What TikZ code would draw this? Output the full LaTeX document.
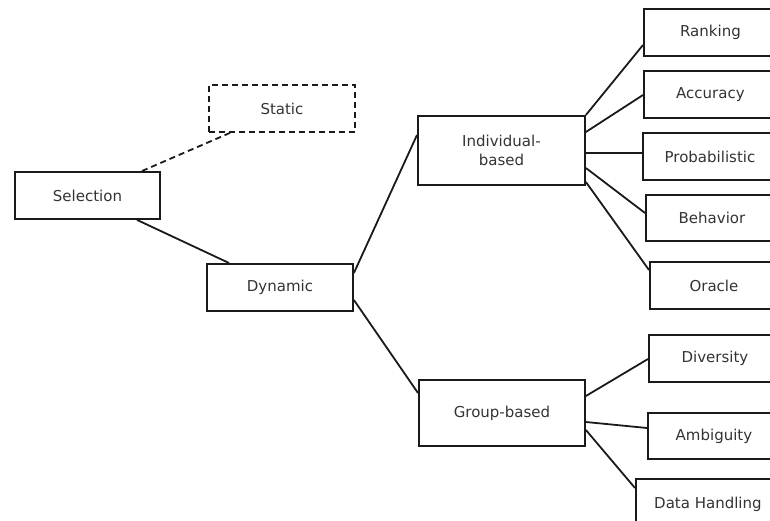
\documentclass[tikz,border=0pt]{standalone}
\usepackage{fontspec}
\setmainfont{DejaVu Sans}
\definecolor{inkline}{HTML}{1A1A1A}
\definecolor{inktext}{HTML}{333333}
\begin{document}
\begin{tikzpicture}[x=1pt,y=-1pt,
  box/.style={draw=inkline, line width=1.9pt, inner sep=0pt, anchor=north west,
    font=\fontsize{15}{19}\selectfont, text=inktext, align=center},
  link/.style={draw=inkline, line width=1.8pt},
  dashlink/.style={link, dash pattern=on 6pt off 4pt}]
\useasboundingbox (0,0) rectangle (770,521);
\clip (0,0) rectangle (770,521);

% left part of the tree
\node[box, minimum width=145pt, minimum height=47pt] (sel) at (14,171) {Selection};
\node[box, minimum width=146pt, minimum height=47pt, dash pattern=on 6pt off 4pt] (stat) at (208,84) {Static};
\node[box, minimum width=146pt, minimum height=47pt] (dyn) at (206,263) {Dynamic};

% second level
\node[box, minimum width=167pt, minimum height=69pt] (ind) at (417,115) {Individual-\\based};
\node[box, minimum width=166pt, minimum height=66pt] (grp) at (418,379) {Group-based};

% leaves (cut off at the right border)
\node[box, minimum width=133pt, minimum height=47pt] (rank) at (643,8) {Ranking};
\node[box, minimum width=133pt, minimum height=47pt] (acc) at (643,70) {Accuracy};
\node[box, minimum width=134pt, minimum height=47pt] (prob) at (642,132) {Probabilistic};
\node[box, minimum width=132pt, minimum height=46pt] (beh) at (645,194) {Behavior};
\node[box, minimum width=128pt, minimum height=47pt] (ora) at (649,261) {Oracle};
\node[box, minimum width=132pt, minimum height=47pt] (div) at (648,334) {Diversity};
\node[box, minimum width=132pt, minimum height=46pt] (amb) at (647,412) {Ambiguity};
\node[box, minimum width=144pt, minimum height=50pt] (data) at (635,478) {Data Handling};

% connectors
\draw[dashlink] ([xshift=128pt]sel.north west) -- ([xshift=22pt]stat.south west);
\draw[link] ([xshift=123pt]sel.south west) -- ([xshift=23pt]dyn.north west);
\draw[link] ([yshift=-10pt]dyn.north east) -- ([yshift=-20pt]ind.north west);
\draw[link] ([yshift=-37pt]dyn.north east) -- ([yshift=-14pt]grp.north west);

\draw[link] (ind.north east) -- ([yshift=-37pt]rank.north west);
\draw[link] ([yshift=-17pt]ind.north east) -- ([yshift=-25pt]acc.north west);
\draw[link] ([yshift=-38pt]ind.north east) -- ([yshift=-21pt]prob.north west);
\draw[link] ([yshift=-53pt]ind.north east) -- ([yshift=-19pt]beh.north west);
\draw[link] ([yshift=-67pt]ind.north east) -- ([yshift=-9pt]ora.north west);

\draw[link] ([yshift=-17pt]grp.north east) -- ([yshift=-25pt]div.north west);
\draw[link] ([yshift=-43pt]grp.north east) -- ([yshift=-16pt]amb.north west);
\draw[link] ([yshift=-51pt]grp.north east) -- ([yshift=-10pt]data.north west);
\end{tikzpicture}
\end{document}
